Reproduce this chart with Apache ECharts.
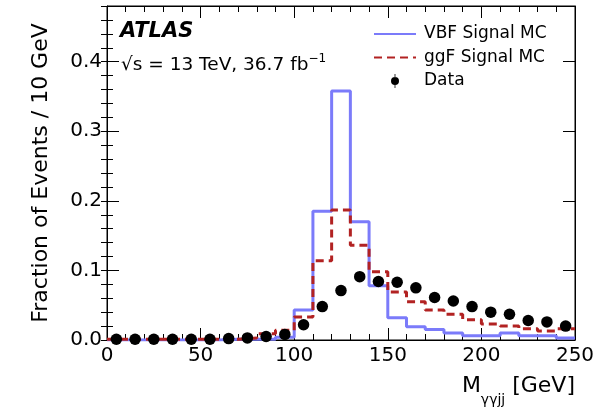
<!DOCTYPE html>
<html>
<head>
<meta charset="utf-8">
<script src="https://cdn.jsdelivr.net/npm/echarts@6/dist/echarts.min.js"></script>
<style>
  html, body { margin: 0; padding: 0; background: #fff; }
  #main { width: 607px; height: 409px; }
</style>
</head>
<body>
<div id="main"></div>
<script>
// bin edges of M_yyjj in GeV (10 GeV bins)
var binEdges = [0, 10, 20, 30, 40, 50, 60, 70, 80, 90, 100, 110, 120, 130, 140, 150, 160, 170, 180, 190, 200, 210, 220, 230, 240, 250];
// fraction of events per bin
var vbfSignal = [0.000, 0.000, 0.000, 0.000, 0.000, 0.000, 0.001, 0.001, 0.001, 0.004, 0.043, 0.185, 0.358, 0.170, 0.078, 0.032, 0.019, 0.015, 0.010, 0.006, 0.006, 0.010, 0.006, 0.006, 0.003];
var ggfSignal = [0.001, 0.001, 0.001, 0.001, 0.001, 0.001, 0.001, 0.003, 0.009, 0.014, 0.033, 0.114, 0.187, 0.136, 0.098, 0.069, 0.055, 0.043, 0.037, 0.029, 0.023, 0.020, 0.016, 0.013, 0.016];
var dataPoints = [0.001, 0.001, 0.001, 0.001, 0.001, 0.001, 0.002, 0.003, 0.005, 0.008, 0.022, 0.048, 0.071, 0.091, 0.084, 0.083, 0.075, 0.061, 0.056, 0.048, 0.040, 0.037, 0.028, 0.026, 0.020];
var yMajorTicks = [0, 0.1, 0.2, 0.3, 0.4];

var FONT = 'DejaVu Sans';

// step histogram: point at each lower edge, plus last upper edge
function histPoints(vals) {
    var res = [];
    for (var i = 0; i < vals.length; i++) {
        res.push([binEdges[i], vals[i]]);
    }
    res.push([binEdges[vals.length], vals[vals.length - 1]]);
    return res;
}
function centerPoints(vals) {
    var res = [];
    for (var i = 0; i < vals.length; i++) {
        res.push([(binEdges[i] + binEdges[i + 1]) / 2, vals[i]]);
    }
    return res;
}

var myChart = echarts.init(document.getElementById('main'), null, {renderer: 'canvas'});

var xBase = {
    type: 'value', min: 0, max: 250, interval: 50,
    axisLine: {show: true, onZero: false, lineStyle: {color: '#000', width: 1}},
    axisTick: {show: true, inside: true, length: 12, lineStyle: {color: '#000'}},
    minorTick: {show: true, splitNumber: 5, length: 6, lineStyle: {color: '#000'}},
    splitLine: {show: false},
    minorSplitLine: {show: false}
};
var yMajor = {
    type: 'value', min: 0, max: 0.48, interval: 0.1,
    axisLine: {show: true, onZero: false, lineStyle: {color: '#000', width: 1}},
    axisTick: {show: true, inside: true, length: 12, customValues: yMajorTicks, lineStyle: {color: '#000'}},
    splitLine: {show: false}
};
var yMinor = {
    type: 'value', min: 0, max: 0.48, interval: 0.02,
    axisLine: {show: false},
    axisTick: {show: true, inside: true, length: 6, lineStyle: {color: '#000'}},
    axisLabel: {show: false},
    splitLine: {show: false}
};

var option = {
    animation: false,
    backgroundColor: '#fff',
    textStyle: {fontFamily: FONT, color: '#000'},
    grid: {left: 107, right: 32, top: 6, bottom: 69, show: true, borderColor: '#000', borderWidth: 1},
    legend: {
        orient: 'vertical',
        left: 368,
        top: 19,
        itemWidth: 42,
        itemHeight: 14,
        itemGap: 3.5,
        textStyle: {fontFamily: FONT, fontSize: 17, color: '#000', lineHeight: 20, padding: [0, 0, 0, 3]},
        data: [
            {name: 'VBF Signal MC', itemStyle: {opacity: 0}},
            {name: 'ggF Signal MC', itemStyle: {opacity: 0}},
            {name: 'Data', icon: 'path://M4.6,0H5.4V14H4.6Z M5,3A4,4,0,1,1,5,11A4,4,0,1,1,5,3Z'}
        ]
    },
    xAxis: [
        echarts.util.merge({
            position: 'bottom',
            axisLabel: {fontFamily: FONT, fontSize: 20, color: '#000', margin: 6},
            name: '{m|M}{s|γγjj}{m| [GeV]}',
            nameLocation: 'end',
            nameGap: 0,
            nameTextStyle: {
                align: 'right', verticalAlign: 'top', padding: [33, 0, 0, 0],
                rich: {
                    m: {fontFamily: FONT, fontSize: 22, color: '#000', lineHeight: 26},
                    s: {fontFamily: FONT, fontSize: 14, color: '#000', verticalAlign: 'bottom', lineHeight: 14, padding: [0, 0, -8, 0]}
                }
            }
        }, xBase, true),
        echarts.util.merge({position: 'top', axisLabel: {show: false}}, xBase, true)
    ],
    yAxis: [
        echarts.util.merge({
            position: 'left',
            axisLabel: {
                fontFamily: FONT, fontSize: 20, color: '#000', margin: 5,
                showMaxLabel: false,
                formatter: function (v) { return v.toFixed(1); }
            },
            name: 'Fraction of Events / 10 GeV',
            nameLocation: 'middle',
            nameGap: 55,
            nameTextStyle: {fontFamily: FONT, fontSize: 22, color: '#000'}
        }, yMajor, true),
        echarts.util.merge({position: 'left'}, yMinor, true),
        echarts.util.merge({position: 'right', axisLabel: {show: false}}, yMajor, true),
        echarts.util.merge({position: 'right'}, yMinor, true)
    ],
    graphic: [
        {
            type: 'text', left: 120, top: 21,
            style: {text: 'ATLAS', fontFamily: FONT, fontSize: 21, fontWeight: 'bold', fontStyle: 'italic', fill: '#000'}
        },
        {
            type: 'text', left: 121, top: 53,
            style: {
                text: '{a|√s = 13 TeV, 36.7 fb}{b|−1}',
                rich: {
                    a: {fontFamily: FONT, fontSize: 18.5, fill: '#000', lineHeight: 24},
                    b: {fontFamily: FONT, fontSize: 12, fill: '#000', verticalAlign: 'top', lineHeight: 12}
                }
            }
        }
    ],
    series: [
        {
            name: 'VBF Signal MC',
            type: 'line',
            step: 'end',
            symbol: 'none',
            data: histPoints(vbfSignal),
            itemStyle: {color: '#7b7bfa'},
            lineStyle: {color: '#7b7bfa', width: 3},
            z: 2
        },
        {
            name: 'ggF Signal MC',
            type: 'line',
            step: 'end',
            symbol: 'none',
            data: histPoints(ggfSignal),
            itemStyle: {color: '#b22222'},
            lineStyle: {color: '#b22222', width: 3, type: [8, 5]},
            z: 3
        },
        {
            name: 'Data',
            type: 'scatter',
            symbol: 'circle',
            symbolSize: 11.5,
            data: centerPoints(dataPoints),
            itemStyle: {color: '#000', opacity: 1},
            z: 4
        }
    ]
};

myChart.setOption(option);
window.addEventListener('resize', function () {
    myChart.resize();
});
</script>
</body>
</html>
